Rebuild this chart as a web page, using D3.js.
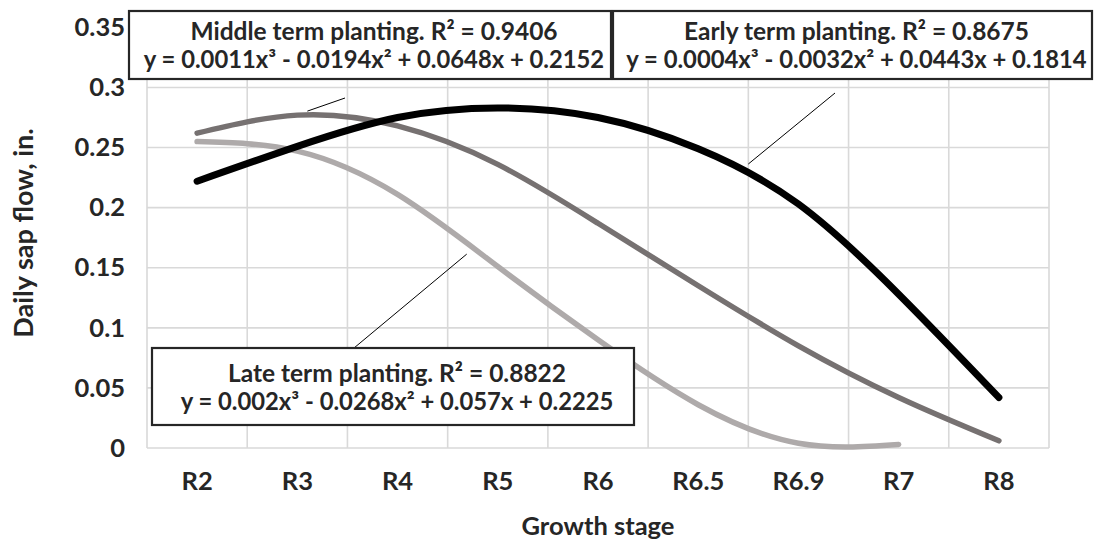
<!DOCTYPE html>
<html>
<head>
<meta charset="utf-8">
<script src="https://cdn.jsdelivr.net/npm/d3@7"></script>
<style>
  html, body { margin: 0; padding: 0; background: #fff; }
  svg text { font-family: Lato, "Open Sans", sans-serif; font-weight: 700; fill: #262626; }
</style>
</head>
<body>
<svg id="chart" width="1094" height="539"></svg>
<script>
// Growth stages on the x axis
const stages = ["R2", "R3", "R4", "R5", "R6", "R6.5", "R6.9", "R7", "R8"];

// Daily sap flow (in.) along each fitted trend, per growth stage
const earlyFlow  = [0.222, 0.251, 0.275, 0.283, 0.275, 0.249, 0.203, 0.128, 0.042];
const middleFlow = [0.262, 0.277, 0.268, 0.236, 0.187, 0.135, 0.085, 0.042, 0.006];
const lateFlow   = [0.255, 0.247, 0.211, 0.151, 0.090, 0.036, 0.004, 0.003];

// Y axis ticks
const yTicks = [0, 0.05, 0.1, 0.15, 0.2, 0.25, 0.3, 0.35];

// Trendline labels
const earlyLabel  = ["Early term planting. R² = 0.8675",  "y = 0.0004x³ - 0.0032x² + 0.0443x + 0.1814"];
const middleLabel = ["Middle term planting. R² = 0.9406", "y = 0.0011x³ - 0.0194x² + 0.0648x + 0.2152"];
const lateLabel   = ["Late term planting. R² = 0.8822",   "y = 0.002x³ - 0.0268x² + 0.057x + 0.2225"];

const svg = d3.select("#chart");
const plot = { left: 147, right: 1049, top: 27.4, bottom: 448 };

const x = d3.scaleBand().domain(stages).range([plot.left, plot.right]).padding(0);
const y = d3.scaleLinear().domain([0, 0.35]).range([plot.bottom, plot.top]);
const xc = i => x(stages[0]) + x.bandwidth() * (i + 0.5);   // centre of stage i (fractional allowed)

// Gridlines
const grid = svg.append("g").attr("stroke", "#d9d9d9").attr("stroke-width", 1.6);
grid.selectAll("line.h").data(yTicks).join("line")
  .attr("x1", plot.left).attr("x2", plot.right)
  .attr("y1", d => y(d)).attr("y2", d => y(d));
grid.selectAll("line.v").data(d3.range(stages.length + 1)).join("line")
  .attr("x1", i => plot.left + i * x.bandwidth()).attr("x2", i => plot.left + i * x.bandwidth())
  .attr("y1", plot.top).attr("y2", plot.bottom);

// Y axis labels
const yAxis = d3.axisLeft(y).tickValues(yTicks).tickFormat(d => String(+d.toFixed(2))).tickSize(0).tickPadding(22);
const gy = svg.append("g").attr("transform", `translate(${plot.left},0)`).call(yAxis);
gy.select(".domain").remove();
gy.attr("font-family", null).attr("font-size", null);
gy.selectAll("text").attr("font-size", 25.5);

// X axis labels
const xAxis = d3.axisBottom(x).tickSize(0).tickPadding(24);
const gx = svg.append("g").attr("transform", `translate(0,${plot.bottom})`).call(xAxis);
gx.select(".domain").remove();
gx.attr("font-family", null).attr("font-size", null);
gx.selectAll("text").attr("font-size", 25.5);

// Axis titles
svg.append("text").attr("x", (plot.left + plot.right) / 2).attr("y", 535)
  .attr("text-anchor", "middle").attr("font-size", 25.5).text("Growth stage");
svg.append("text").attr("transform", `translate(33,233) rotate(-90)`)
  .attr("text-anchor", "middle").attr("font-size", 27).text("Daily sap flow, in.");

// Trend curves
const series = [
  { values: lateFlow,   color: "#aeaaaa", width: 5.5 },
  { values: middleFlow, color: "#767171", width: 5.5 },
  { values: earlyFlow,  color: "#000000", width: 7 }
];
const line = d3.line().x((v, i) => xc(i)).y(v => y(v)).curve(d3.curveNatural);
svg.append("g").selectAll("path").data(series).join("path")
  .attr("d", d => line(d.values))
  .attr("fill", "none").attr("stroke", d => d.color).attr("stroke-width", d => d.width)
  .attr("stroke-linecap", "round");

// Label boxes with leader lines to their curves
const boxes = [
  { lines: middleLabel, x: 129, y: 11, w: 482, h: 68, at: { i: 1.1, v: 0.277 }, to: [345, 98] },
  { lines: earlyLabel,  x: 613, y: 11, w: 479, h: 68, at: { i: 5.5, v: 0.233 }, to: [835, 93] },
  { lines: lateLabel,   x: 152, y: 348, w: 482, h: 77, at: { i: 2.69, v: 0.158 }, to: [354, 348] }
];
const leaders = svg.append("g").attr("stroke", "#000").attr("stroke-width", 1);
boxes.forEach(b => {
  leaders.append("line")
    .attr("x1", xc(b.at.i)).attr("y1", y(b.at.v) - 4)
    .attr("x2", b.to[0]).attr("y2", b.to[1]);
});
const gb = svg.append("g").selectAll("g").data(boxes).join("g");
gb.append("rect")
  .attr("x", d => d.x).attr("y", d => d.y).attr("width", d => d.w).attr("height", d => d.h)
  .attr("fill", "#fff").attr("stroke", "#262626").attr("stroke-width", 2.2);
gb.each(function (d) {
  const g = d3.select(this);
  const cx = d.x + d.w / 2 + 4;
  const cy = d.y + d.h / 2;
  g.append("text").attr("x", cx).attr("y", cy - 5).attr("text-anchor", "middle")
    .attr("font-size", 24.5).text(d.lines[0]);
  g.append("text").attr("x", cx).attr("y", cy + 23).attr("text-anchor", "middle")
    .attr("font-size", 23.8).text(d.lines[1]);
});
</script>
</body>
</html>
